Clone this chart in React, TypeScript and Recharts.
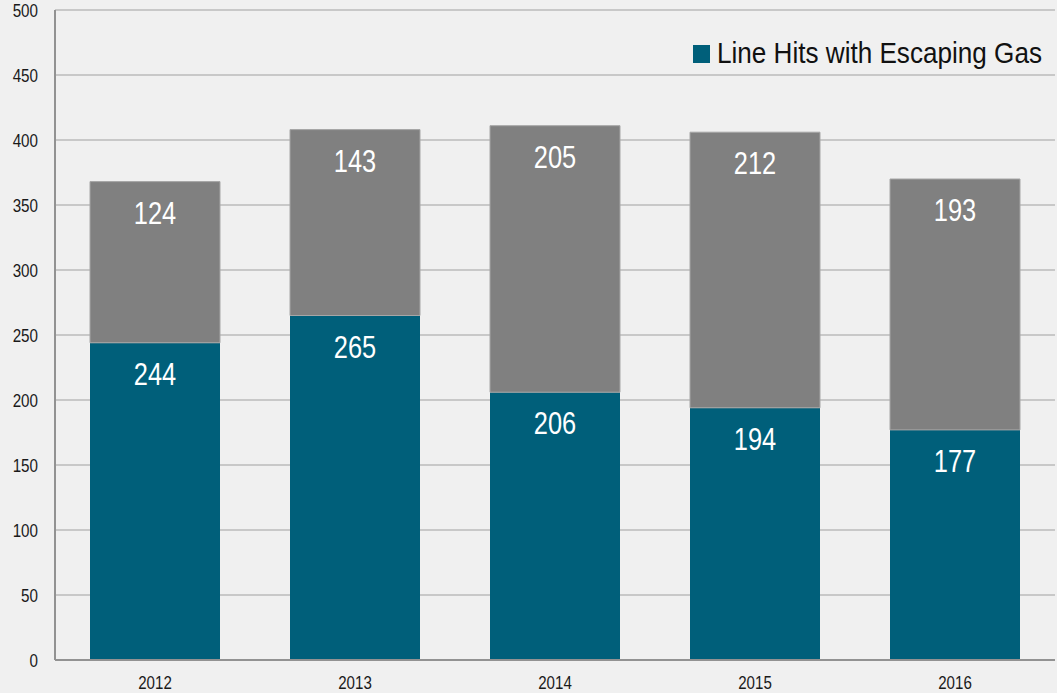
import React from 'react';
import { BarChart, Bar, XAxis, YAxis, CartesianGrid, LabelList } from 'recharts';

const years = ['2012', '2013', '2014', '2015', '2016'];
const lineHitsGas = [244, 265, 206, 194, 177];
const otherHits = [124, 143, 205, 212, 193];
const yTicks = [0, 50, 100, 150, 200, 250, 300, 350, 400, 450, 500];

const data = years.map((year, i) => ({ year, gas: lineHitsGas[i], other: otherHits[i] }));

// no narrow font installed, so Liberation Sans squeezed sideways stands in for it
const FONT = "'Liberation Sans', Arial, sans-serif";
const TEAL = '#005f7a';
const GRAY = '#808080';

function YTick(props: any) {
  const { x, y, payload } = props;
  return (
    <g transform={`translate(${x},${y})`}>
      <text transform="scale(0.8,1)" textAnchor="end" dy="0.36em" fill="#1a1a1a" fontSize={19} fontFamily={FONT}>
        {payload.value}
      </text>
    </g>
  );
}

function XTick(props: any) {
  const { x, y, payload } = props;
  return (
    <g transform={`translate(${x},${y})`}>
      <text transform="scale(0.84,1)" textAnchor="middle" dy={27} fill="#1a1a1a" fontSize={18} fontFamily={FONT}>
        {payload.value}
      </text>
    </g>
  );
}

function BarValue(props: any) {
  const { x, y, width, value } = props;
  return (
    <g transform={`translate(${Number(x) + Number(width) / 2},${Number(y) + 42})`}>
      <text transform="scale(0.82,1)" textAnchor="middle" fill="#fff" fontSize={31} fontFamily={FONT}>
        {value}
      </text>
    </g>
  );
}

export default function App() {
  return (
    <div style={{ position: 'absolute', left: 0, top: 0, width: 1057, height: 693, background: '#f0f0f0' }}>
      <BarChart width={1057} height={693} data={data} barCategoryGap={35} margin={{ top: 10, right: 2, bottom: 0, left: 0 }}>
        <CartesianGrid vertical={false} stroke="#c8c8c8" strokeWidth={2} />
        <XAxis
          dataKey="year"
          height={33}
          tickLine={false}
          tickSize={0}
          axisLine={{ stroke: '#929292', strokeWidth: 2 }}
          tick={<XTick />}
        />
        <YAxis
          width={55}
          domain={[0, 500]}
          ticks={yTicks}
          interval={0}
          tickLine={false}
          tickSize={0}
          tickMargin={17}
          axisLine={{ stroke: '#929292', strokeWidth: 2 }}
          tick={<YTick />}
        />
        <Bar dataKey="gas" stackId="a" fill={TEAL} isAnimationActive={false}>
          <LabelList dataKey="gas" content={<BarValue />} />
        </Bar>
        <Bar dataKey="other" stackId="a" fill={GRAY} stroke="#a6a6a6" strokeWidth={1} isAnimationActive={false}>
          <LabelList dataKey="other" content={<BarValue />} />
        </Bar>
      </BarChart>
      <div style={{ position: 'absolute', left: 693, top: 37, display: 'flex', alignItems: 'center', fontFamily: FONT, color: '#111' }}>
        <span style={{ width: 17, height: 18, background: TEAL, display: 'inline-block' }} />
        <span style={{ display: 'inline-block', fontSize: 29, marginLeft: 7, transform: 'scaleX(0.9)', transformOrigin: 'left center', whiteSpace: 'nowrap' }}>
          Line Hits with Escaping Gas
        </span>
      </div>
    </div>
  );
}
